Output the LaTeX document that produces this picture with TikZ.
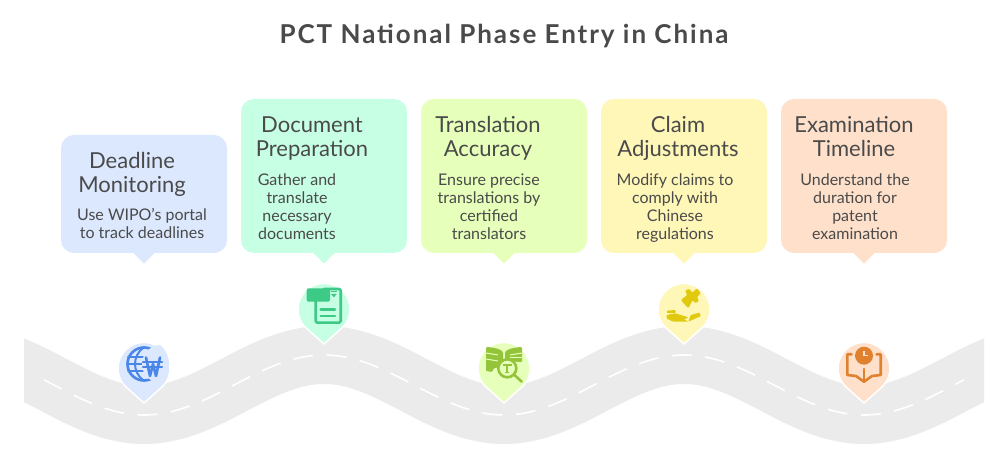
\documentclass[tikz,border=0pt]{standalone}
\usepackage{fontspec}
\setmainfont{Lato}
\definecolor{roadgray}{HTML}{EBEBEB}
\definecolor{inkgray}{HTML}{4A4A4A}
\definecolor{blueback}{HTML}{DCE8FE}
\definecolor{greenback}{HTML}{C7FFE4}
\definecolor{limeback}{HTML}{E6FFBA}
\definecolor{yellowback}{HTML}{FFF7B8}
\definecolor{orangeback}{HTML}{FFE1CB}
\definecolor{blueicon}{HTML}{4A86E8}
\definecolor{greenicon}{HTML}{3DC986}
\definecolor{limeicon}{HTML}{94C43A}
\definecolor{yellowicon}{HTML}{E0C90F}
\definecolor{orangeicon}{HTML}{E0812F}
\tikzset{
    card/.style={rounded corners=13pt, minimum width=166pt, inner sep=0pt},
    heading/.style={text=inkgray, align=center, font=\fontsize{22}{24}\selectfont, inner sep=0pt, execute at begin node=\strut, execute at end node=\strut},
    body/.style={text=inkgray, align=center, font=\fontsize{16}{18}\selectfont, inner sep=0pt, execute at begin node=\strut, execute at end node=\strut},
    pinmark/.style={draw=white, line width=1.5pt, line join=round},
    iconline/.style={line width=2.6pt, line cap=round, line join=round, fill=none}
}
\begin{document}
\begin{tikzpicture}[x=1pt,y=1pt]
    \useasboundingbox (0,0) rectangle (1008,463);

    % title
    \node[text=inkgray, inner sep=0pt, font=\fontsize{26}{30}\selectfont\bfseries\addfontfeatures{LetterSpace=7.5}] (title) at (504,427) {PCT National Phase Entry in China};

    % road
    \begin{scope}
        \clip (24,0) rectangle (984,463);
        \draw[roadgray, line width=58pt] plot[domain=0:1008, samples=169, smooth] (\x, {78-30*cos(\x-144)});
    \end{scope}
    \draw[white, line width=1.6pt, dash pattern=on 20pt off 13.5pt] plot[domain=44:964, samples=154, smooth] (\x, {78-30*cos(\x-144)});

    % cards
    \node[card, fill=blueback, minimum height=118pt] (deadlinecard) at (144,269) {};
    \fill[blueback] (deadlinecard.south) ++(-11,0.5) -- ++(11,-11) -- ++(11,11) -- cycle;
    \node[card, fill=greenback, minimum height=154pt] (documentcard) at (324,287) {};
    \fill[greenback] (documentcard.south) ++(-11,0.5) -- ++(11,-11) -- ++(11,11) -- cycle;
    \node[card, fill=limeback, minimum height=154pt] (translationcard) at (504,287) {};
    \fill[limeback] (translationcard.south) ++(-11,0.5) -- ++(11,-11) -- ++(11,11) -- cycle;
    \node[card, fill=yellowback, minimum height=154pt] (claimcard) at (684,287) {};
    \fill[yellowback] (claimcard.south) ++(-11,0.5) -- ++(11,-11) -- ++(11,11) -- cycle;
    \node[card, fill=orangeback, minimum height=154pt] (examcard) at (864,287) {};
    \fill[orangeback] (examcard.south) ++(-11,0.5) -- ++(11,-11) -- ++(11,11) -- cycle;

    % card texts
    \node[heading] (deadlinehead) at (132,287) {Deadline\\Monitoring};
    \node[body] (deadlinebody) at (142,237) {Use WIPO's portal\\to track deadlines};
    \node[heading] (documenthead) at (312,323) {Document\\Preparation};
    \node[body] (documentbody) at (297,254) {Gather and\\translate\\necessary\\documents};
    \node[heading] (translationhead) at (488,323) {Translation\\Accuracy};
    \node[body] (translationbody) at (489,254) {Ensure precise\\translations by\\certified\\translators};
    \node[heading] (claimhead) at (678,323) {Claim\\Adjustments};
    \node[body] (claimbody) at (675,254) {Modify claims to\\comply with\\Chinese\\regulations};
    \node[heading] (examhead) at (854,323) {Examination\\Timeline};
    \node[body] (exambody) at (855,254) {Understand the\\duration for\\patent\\examination};

    % pins
    \draw[pinmark, fill=blueback] (144,60) -- (124.6,77.3) arc[start angle=221.8, end angle=-41.8, radius=26] -- cycle;
    \draw[pinmark, fill=greenback] (324,119) -- (304.6,136.3) arc[start angle=221.8, end angle=-41.8, radius=26] -- cycle;
    \draw[pinmark, fill=limeback] (504,60) -- (484.6,77.3) arc[start angle=221.8, end angle=-41.8, radius=26] -- cycle;
    \draw[pinmark, fill=yellowback] (684,119) -- (664.6,136.3) arc[start angle=221.8, end angle=-41.8, radius=26] -- cycle;
    \draw[pinmark, fill=orangeback] (864,60) -- (844.6,77.3) arc[start angle=221.8, end angle=-41.8, radius=26] -- cycle;

    % globe and won sign
    \begin{scope}[shift={(144,99)}]
        \clip (0,0) circle [radius=25];
        \draw[blueicon, iconline] (0,0) circle [radius=16.5];
        \draw[blueicon, iconline, line width=2pt] (0,17) .. controls (-12,8) and (-12,-8) .. (0,-17);
        \draw[blueicon, iconline, line width=2pt] (-16,6.5) -- (4,6.5);
        \draw[blueicon, iconline, line width=2pt] (-17,0) -- (4,0);
        \draw[blueicon, iconline, line width=2pt] (-16,-6.5) -- (4,-6.5);
        \fill[blueback] (17,0) circle [radius=19];
        \draw[blueicon, iconline] (2,6.5) -- (6,-12) -- (9,0) -- (12,-12) -- (16,6.5);
        \draw[blueicon, iconline, line width=2.2pt] (-1,2.3) -- (18,2.3);
        \draw[blueicon, iconline, line width=2.2pt] (-1,-2.7) -- (18,-2.7);
    \end{scope}

    % document
    \begin{scope}[shift={(324,158)}]
        \draw[greenicon, iconline, rounded corners=1.5pt] (-8.3,5) -- (-8.3,-17.7) -- (16.7,-17.7) -- (16.7,16) -- (0,16);
        \fill[greenicon, rounded corners=2pt] (-17.3,16.7) rectangle (6,3.3);
        \fill[greenicon] (7,11) -- (12.7,11) -- (9.85,7.7) -- cycle;
        \draw[greenicon, line width=1.2pt] (7,13.4) -- (12.7,13.4);
        \draw[greenicon, iconline] (-3.3,-4.3) -- (11,-4.3);
        \draw[greenicon, iconline] (-3.3,-11) -- (11,-11);
    \end{scope}

    % book and magnifier
    \begin{scope}[shift={(504,99)}]
        \fill[limeicon, rounded corners=1pt] (-18,17) .. controls (-10,16.5) and (-4,15) .. (-1,12) -- (-1,-3) -- (-10,-4) -- (-12,-8) -- (-18,-7) -- cycle;
        \fill[limeicon, rounded corners=1pt] (18,17) .. controls (10,16.5) and (4,15) .. (1,12) -- (1,4) -- (14,2) -- (18,2) -- cycle;
        \draw[limeback, line width=1pt] (-18,11) -- (-6,9);
        \draw[limeback, line width=1pt] (-18,5) -- (-6,3);
        \draw[limeback, line width=1pt] (18,11) -- (6,9);
        \draw[limeback, line width=1pt] (18,6) -- (6,6);
        \draw[limeicon, line width=2.6pt, fill=limeback] (3.3,-4.3) circle [radius=9];
        \draw[limeicon, line width=1.8pt] (-1,-0.8) -- (7.6,-0.8) (3.3,-0.8) -- (3.3,-8.5) (1.3,-8.5) -- (5.3,-8.5);
        \draw[limeicon, iconline] (10.5,-11) -- (17.7,-17.7);
    \end{scope}

    % puzzle piece and hand
    \begin{scope}[shift={(684,158)}]
        \fill[yellowicon, rounded corners=1.2pt] (-3.3,5) -- (3.3,10) -- (1,14.3) -- (5.3,16.3) -- (8.3,12.3) -- (12.7,16.7) -- (17,11.7) -- (12.7,7.7) -- (15.3,4.3) -- (11,1.7) -- (8.7,5) -- (4.3,-3.3) -- cycle;
        \fill[yellowicon, rounded corners=0.8pt] (-17.3,-5.7) -- (-8.7,-5) -- (-8,-7.7) -- (-16.7,-8.3) -- cycle;
        \fill[yellowicon, rounded corners=0.8pt] (-17.3,-10) -- (-8.7,-8.3) -- (4.3,-12.3) -- (1,-14.3) -- (-2.3,-12.7) -- (4.3,-16.7) -- (-10.7,-16.7) -- (-17.3,-13.7) -- cycle;
        \fill[yellowicon, rounded corners=0.8pt] (6.7,-10) -- (15.3,-7.7) -- (17,-11) -- (4.3,-16.7) -- cycle;
    \end{scope}

    % book and clock
    \begin{scope}[shift={(864,99)}]
        \fill[orangeicon] (0,8.3) circle [radius=9];
        \draw[orangeback, line width=1.3pt] (0,13.3) -- (0,8.3) -- (4.3,8.3);
        \draw[orangeicon, iconline] (-12.5,9.7) -- (-16.7,9.7) -- (-16.7,-11) -- (-8,-12) -- (0,-17.7) -- (8,-12) -- (16.7,-11) -- (16.7,9.7) -- (12.5,9.7);
        \draw[orangeicon, iconline] (0,-5) -- (0,-17.7);
    \end{scope}
\end{tikzpicture}
\end{document}
